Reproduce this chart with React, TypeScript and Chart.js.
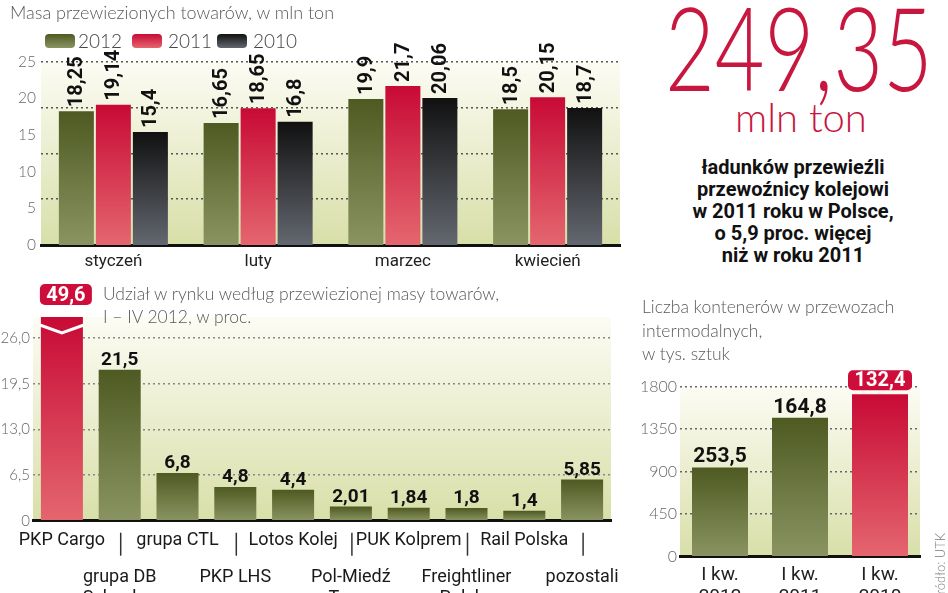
import React, { useEffect, useRef } from "react";
import { Chart, registerables } from "chart.js";

Chart.register(...registerables);

// ---------- data ----------
const seriesNames = ["2012", "2011", "2010"];
const months = ["styczeń", "luty", "marzec", "kwiecień"];
const mass2012 = [18.25, 16.65, 19.9, 18.5];
const mass2011 = [19.14, 18.65, 21.7, 20.15];
const mass2010 = [15.4, 16.8, 20.06, 18.7];
const massTicks = [0, 5, 10, 15, 20, 25];
const massGridLines = [6.25, 12.5, 18.75, 25];

const carriers = [
  ["PKP Cargo"],
  ["grupa DB", "Schenker"],
  ["grupa CTL"],
  ["PKP LHS"],
  ["Lotos Kolej"],
  ["Pol-Miedź", "Trans"],
  ["PUK Kolprem"],
  ["Freightliner", "Polska"],
  ["Rail Polska"],
  ["pozostali"],
];
const shares = [49.6, 21.5, 6.8, 4.8, 4.4, 2.01, 1.84, 1.8, 1.4, 5.85];
const shareTicks = [0, 6.5, 13, 19.5, 26];
const shareTickLabels = ["0", "6,5", "13,0", "19,5", "26,0"];

const quarters = [
  ["I kw.", "2012"],
  ["I kw.", "2011"],
  ["I kw.", "2010"],
];
const containerBars = [945, 1470, 1720];
const containerLabels = ["253,5", "164,8", "132,4"];
const containerTicks = [0, 450, 900, 1350, 1800];

// ---------- styles ----------
const OLIVE: [string, string] = ["#4e5a21", "#8a9462"];
const RED: [string, string] = ["#c80a35", "#e4666f"];
const BLACK: [string, string] = ["#111111", "#63676f"];
const BOX_RED = "#cf0d3a";
const SANS = "Roboto, 'Noto Sans', sans-serif";
const LIGHT = "Lato, Roboto, sans-serif";
const GRAY = "#5a5a5a";

const fmt = (v: number) => String(v).replace(".", ",");

const barFill = (stops: [string, string]) => (c: any) => {
  const chart = c.chart;
  const area = chart.chartArea;
  if (c.type !== "data" || !area) return stops[0];
  const ys = chart.scales.y;
  const top = Math.max(ys.getPixelForValue(c.raw), area.top);
  const bottom = ys.getPixelForValue(0);
  const g = chart.ctx.createLinearGradient(0, top, 0, bottom);
  g.addColorStop(0, stops[0]);
  g.addColorStop(1, stops[1]);
  return g;
};

const plotBg = {
  id: "plotBg",
  beforeDraw(chart: any) {
    const { ctx, chartArea: a } = chart;
    const g = ctx.createLinearGradient(0, a.top, 0, a.bottom);
    g.addColorStop(0, "#fcfcf4");
    g.addColorStop(1, "#d8dfa8");
    ctx.save();
    ctx.fillStyle = g;
    ctx.fillRect(a.left, a.top, a.right - a.left, a.bottom - a.top);
    ctx.restore();
  },
};

function roundBox(ctx: any, x: number, y: number, w: number, h: number, r: number, color: string) {
  ctx.save();
  ctx.fillStyle = color;
  ctx.beginPath();
  if (ctx.roundRect) ctx.roundRect(x, y, w, h, r);
  else ctx.rect(x, y, w, h);
  ctx.fill();
  ctx.restore();
}

const rotatedValues = {
  id: "rotatedValues",
  afterDraw(chart: any) {
    const ctx = chart.ctx;
    ctx.save();
    ctx.font = `bold 20px ${SANS}`;
    ctx.fillStyle = "#111";
    ctx.textAlign = "left";
    ctx.textBaseline = "middle";
    chart.data.datasets.forEach((ds: any, di: number) => {
      chart.getDatasetMeta(di).data.forEach((bar: any, i: number) => {
        ctx.save();
        ctx.translate(bar.x + 1, bar.y - 4);
        ctx.rotate(-Math.PI / 2);
        ctx.fillText(fmt(ds.data[i]), 0, 0);
        ctx.restore();
      });
    });
    ctx.restore();
  },
};

const shareDecor = {
  id: "shareDecor",
  afterDraw(chart: any) {
    const { ctx, chartArea: a } = chart;
    const meta = chart.getDatasetMeta(0);
    const xs = chart.scales.x;
    ctx.save();
    ctx.font = `bold 19px ${SANS}`;
    ctx.fillStyle = "#111";
    ctx.textAlign = "center";
    ctx.textBaseline = "alphabetic";
    meta.data.forEach((bar: any, i: number) => {
      if (i === 0) return;
      ctx.fillText(fmt(shares[i]), bar.x, bar.y - 5);
    });
    // broken bar marker
    const b = meta.data[0];
    const half = b.width / 2;
    ctx.strokeStyle = "#fff";
    ctx.lineWidth = 3;
    ctx.beginPath();
    ctx.moveTo(b.x - half - 1, a.top + 8);
    ctx.lineTo(b.x, a.top + 16);
    ctx.lineTo(b.x + half + 1, a.top + 8);
    ctx.stroke();
    // value box
    const cx = b.x + 4;
    roundBox(ctx, cx - 26, a.top - 33, 52, 21, 5, BOX_RED);
    ctx.fillStyle = "#fff";
    ctx.font = `bold 20px ${SANS}`;
    ctx.textBaseline = "middle";
    ctx.fillText(fmt(shares[0]), cx, a.top - 21.5);
    // category labels
    ctx.font = `18px ${SANS}`;
    ctx.fillStyle = "#1a1a1a";
    ctx.strokeStyle = "#333";
    ctx.lineWidth = 1.5;
    carriers.forEach((lines, i) => {
      const x = xs.getPixelForValue(i);
      const y0 = i % 2 === 0 ? a.bottom + 19.5 : a.bottom + 56.5;
      lines.forEach((ln, k) => ctx.fillText(ln, x, y0 + k * 21));
      if (i % 2 === 1) {
        ctx.beginPath();
        ctx.moveTo(x + 1, a.bottom + 12);
        ctx.lineTo(x + 1, a.bottom + 35);
        ctx.stroke();
      }
    });
    ctx.restore();
  },
};

const containerDecor = {
  id: "containerDecor",
  afterDraw(chart: any) {
    const ctx = chart.ctx;
    const meta = chart.getDatasetMeta(0);
    const last = meta.data.length - 1;
    ctx.save();
    ctx.textAlign = "center";
    meta.data.forEach((bar: any, i: number) => {
      if (i === last) {
        roundBox(ctx, bar.x - 32, bar.y - 24, 64, 20, 5, BOX_RED);
        ctx.fillStyle = "#fff";
        ctx.font = `bold 20px ${SANS}`;
        ctx.textBaseline = "middle";
        ctx.fillText(containerLabels[i], bar.x, bar.y - 13.5);
      } else {
        ctx.fillStyle = "#111";
        ctx.font = `bold 21px ${SANS}`;
        ctx.textBaseline = "alphabetic";
        ctx.fillText(containerLabels[i], bar.x, bar.y - 5);
      }
    });
    ctx.restore();
  },
};

const gridOpts = (color: string) => ({
  color,
  lineWidth: 1.5,
  drawTicks: false,
});

export default function App() {
  const c1 = useRef<HTMLCanvasElement>(null);
  const c2 = useRef<HTMLCanvasElement>(null);
  const c3 = useRef<HTMLCanvasElement>(null);

  useEffect(() => {
    const charts: any[] = [];
    const series = [mass2012, mass2011, mass2010];
    const fills = [OLIVE, RED, BLACK];

    charts.push(
      new Chart(c1.current as any, {
        type: "bar",
        data: {
          labels: months,
          datasets: series.map((d, i) => ({
            label: seriesNames[i],
            data: d,
            backgroundColor: barFill(fills[i]),
            borderWidth: 0,
          })),
        },
        options: {
          animation: false,
          responsive: false,
          maintainAspectRatio: false,
          layout: { padding: { left: 0, top: 61.7, right: 10, bottom: 0 } },
          datasets: { bar: { categoryPercentage: 0.767, barPercentage: 0.946 } } as any,
          plugins: { legend: { display: false }, tooltip: { enabled: false } },
          scales: {
            x: {
              grid: { display: false, drawTicks: false },
              border: { display: true, color: "#111", width: 3 },
              ticks: { font: { family: SANS, size: 17 }, color: "#222", padding: 7 },
              afterFit: (s: any) => {
                s.height = 35;
              },
            },
            y: {
              type: "linear",
              min: 0,
              max: 25,
              grid: { display: false, drawTicks: false },
              border: { display: false },
              ticks: {
                font: { family: LIGHT, size: 15.5, weight: "300" },
                color: "#666",
                padding: 5,
                callback: (v: any) => String(v),
              },
              afterBuildTicks: (s: any) => {
                s.ticks = massTicks.map((v) => ({ value: v }));
              },
              afterFit: (s: any) => {
                s.width = 41;
              },
            },
            yGrid: {
              type: "linear",
              axis: "y",
              position: "left",
              min: 0,
              max: 25,
              z: 1,
              grid: gridOpts("#555"),
              border: { display: false, dash: [2, 3] },
              ticks: { display: false },
              afterBuildTicks: (s: any) => {
                s.ticks = massGridLines.map((v) => ({ value: v }));
              },
              afterFit: (s: any) => {
                s.width = 0;
              },
            },
          } as any,
        },
        plugins: [plotBg, rotatedValues],
      })
    );

    charts.push(
      new Chart(c2.current as any, {
        type: "bar",
        data: {
          labels: carriers.map((c) => c.join(" ")),
          datasets: [
            {
              label: "Udział",
              data: shares,
              backgroundColor: (c: any) => barFill(c.dataIndex === 0 ? RED : OLIVE)(c),
              borderWidth: 0,
            },
          ],
        },
        options: {
          animation: false,
          responsive: false,
          maintainAspectRatio: false,
          layout: { padding: { left: 0, top: 42, right: 19, bottom: 0 } },
          datasets: { bar: { categoryPercentage: 1, barPercentage: 0.727 } } as any,
          plugins: { legend: { display: false }, tooltip: { enabled: false } },
          scales: {
            x: {
              grid: { display: false, drawTicks: false },
              border: { display: true, color: "#111", width: 3 },
              ticks: { display: false },
              afterFit: (s: any) => {
                s.height = 72.3;
              },
            },
            y: {
              type: "linear",
              min: 0,
              max: 29,
              z: 1,
              grid: gridOpts("#888"),
              border: { display: false, dash: [2, 3] },
              ticks: {
                font: { family: LIGHT, size: 15, weight: "300" },
                color: "#666",
                padding: 3,
                callback: (_v: any, i: number) => shareTickLabels[i],
              },
              afterBuildTicks: (s: any) => {
                s.ticks = shareTicks.map((v) => ({ value: v }));
              },
              afterFit: (s: any) => {
                s.width = 33;
              },
            },
          } as any,
        },
        plugins: [plotBg, shareDecor],
      })
    );

    charts.push(
      new Chart(c3.current as any, {
        type: "bar",
        data: {
          labels: quarters as any,
          datasets: [
            {
              label: "Kontenery",
              data: containerBars,
              backgroundColor: (c: any) =>
                barFill(c.dataIndex === containerBars.length - 1 ? RED : OLIVE)(c),
              borderWidth: 0,
            },
          ],
        },
        options: {
          animation: false,
          responsive: false,
          maintainAspectRatio: false,
          layout: { padding: { left: 0, top: 111.7, right: 28, bottom: 0 } },
          datasets: { bar: { categoryPercentage: 1, barPercentage: 0.7 } } as any,
          plugins: { legend: { display: false }, tooltip: { enabled: false } },
          scales: {
            x: {
              grid: { display: false, drawTicks: false },
              border: { display: true, color: "#111", width: 3 },
              ticks: {
                font: { family: SANS, size: 19, lineHeight: 1.15 },
                color: "#222",
                padding: 7.4,
              },
              afterFit: (s: any) => {
                s.height = 36.3;
              },
            },
            y: {
              type: "linear",
              min: 0,
              max: 1800,
              z: 1,
              grid: gridOpts("#666"),
              border: { display: false, dash: [2, 3] },
              ticks: {
                font: { family: LIGHT, size: 16, weight: "300" },
                color: "#666",
                padding: 3,
                callback: (v: any) => String(v),
              },
              afterBuildTicks: (s: any) => {
                s.ticks = containerTicks.map((v) => ({ value: v }));
              },
              afterFit: (s: any) => {
                s.width = 50;
              },
            },
          } as any,
        },
        plugins: [plotBg, containerDecor],
      })
    );

    return () => charts.forEach((c) => c.destroy());
  }, []);

  const grad = (s: [string, string]) => `linear-gradient(${s[0]}, ${s[1]})`;
  const legendPos = [
    { sw: 45, tx: 78 },
    { sw: 132, tx: 168 },
    { sw: 217, tx: 253 },
  ];
  const legendFills = [OLIVE, RED, BLACK];
  const abs = (o: any) => ({ position: "absolute" as const, whiteSpace: "nowrap" as const, ...o });

  return (
    <div
      style={{
        position: "fixed",
        left: 0,
        top: 0,
        width: 948,
        height: 593,
        overflow: "hidden",
        background: "#fff",
      }}
    >
      <canvas ref={c1} width={630} height={280} style={abs({ left: 0, top: 0 })} />
      <canvas ref={c2} width={630} height={318} style={abs({ left: 0, top: 275 })} />
      <canvas ref={c3} width={318} height={318} style={abs({ left: 630, top: 275 })} />

      <div style={abs({ left: 10, top: 1, font: `300 18px/22px ${LIGHT}`, color: GRAY })}>
        Masa przewiezionych towarów, w mln ton
      </div>
      {seriesNames.map((n, i) => (
        <React.Fragment key={n}>
          <div
            style={abs({
              left: legendPos[i].sw,
              top: 34,
              width: 30,
              height: 14,
              borderRadius: 4,
              background: grad(legendFills[i]),
            })}
          />
          <div style={abs({ left: legendPos[i].tx, top: 30, font: `300 19px/22px ${LIGHT}`, color: "#444" })}>
            {n}
          </div>
        </React.Fragment>
      ))}

      <div
        style={abs({
          left: 665,
          top: -11,
          font: `300 116px/116px ${LIGHT}`,
          color: "#c8173f",
          transform: "scaleX(0.74)",
          transformOrigin: "0 0",
        })}
      >
        249,35
      </div>
      <div style={abs({ left: 735, top: 97, font: `300 40px/40px ${LIGHT}`, color: "#c8173f" })}>mln ton</div>
      <div
        style={abs({
          left: 640,
          top: 156,
          width: 306,
          textAlign: "center",
          font: `bold 20px/22px ${SANS}`,
          color: "#111",
        })}
      >
        ładunków przewieźli
        <br />
        przewoźnicy kolejowi
        <br />
        w 2011 roku w Polsce,
        <br />o 5,9 proc. więcej
        <br />
        niż w roku 2011
      </div>

      <div style={abs({ left: 103, top: 282, font: `300 17.5px/23px ${LIGHT}`, color: GRAY })}>
        Udział w rynku według przewiezionej masy towarów,
        <br />I – IV 2012, w proc.
      </div>

      <div style={abs({ left: 642, top: 295, font: `300 17.5px/23.5px ${LIGHT}`, color: GRAY })}>
        Liczba kontenerów w przewozach
        <br />
        intermodalnych,
        <br />w tys. sztuk
      </div>

      <div
        style={abs({
          left: 933,
          top: 533,
          font: `300 13px/14px ${LIGHT}`,
          color: "#777",
          writingMode: "vertical-rl",
          transform: "rotate(180deg)",
        })}
      >
        Źródło: UTK
      </div>
    </div>
  );
}
